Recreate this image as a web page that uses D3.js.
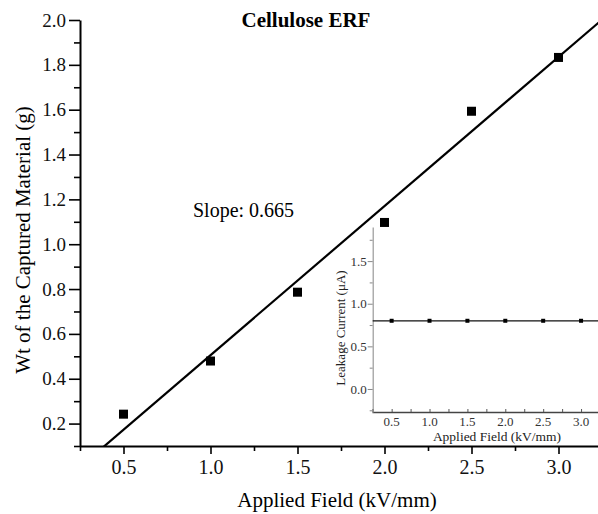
<!DOCTYPE html>
<html>
<head>
<meta charset="utf-8">
<script src="https://cdn.jsdelivr.net/npm/d3@7"></script>
<style>
  body { margin: 0; background: #fff; }
  text { font-family: "Liberation Serif", "Times New Roman", serif; }
</style>
</head>
<body>
<script>

var width = 598,
    height = 514;

// main plot: captured weight vs applied field
var fieldKV = [0.5, 1.0, 1.5, 2.0, 2.5, 3.0];
var capturedWt = [0.242, 0.479, 0.786, 1.097, 1.593, 1.833];
var fitSlope = 0.665,
    fitIntercept = -0.16;

// inset: leakage current vs applied field
var insetField = [0.5, 1.0, 1.5, 2.0, 2.5, 3.0];
var leakageCurrent = [0.8, 0.8, 0.8, 0.8, 0.8, 0.8];

var xTicks = [0.5, 1.0, 1.5, 2.0, 2.5, 3.0],
    xMinor = [0.25, 0.75, 1.25, 1.75, 2.25, 2.75, 3.25],
    yTicks = [0.2, 0.4, 0.6, 0.8, 1.0, 1.2, 1.4, 1.6, 1.8, 2.0],
    yMinor = [0.1, 0.3, 0.5, 0.7, 0.9, 1.1, 1.3, 1.5, 1.7, 1.9],
    insetYTicks = [0.0, 0.5, 1.0, 1.5],
    insetYMinor = [-0.25, 0.25, 0.75, 1.25, 1.75];

var svg = d3.select('body')
    .append('svg')
    .attr('width', width)
    .attr('height', height);

var x = d3.scaleLinear()
    .domain([0.25, 3.25])
    .range([80, 602]);

var y = d3.scaleLinear()
    .domain([0.1, 2.0])
    .range([446, 20]);

var fmt = d3.format('.1f');

// minor ticks first, then major with labels
svg.append('g')
    .attr('transform', 'translate(0,446)')
    .call(d3.axisBottom(x).tickValues(xMinor).tickSize(5).tickFormat(''))
    .call(function(g) { g.select('.domain').remove(); })
    .selectAll('line').attr('stroke-width', 1.6);

var xAxis = svg.append('g')
    .attr('transform', 'translate(0,446)')
    .call(d3.axisBottom(x).tickValues(xTicks).tickSize(8).tickPadding(6).tickFormat(fmt).tickSizeOuter(0));
xAxis.select('.domain').attr('stroke-width', 2);
xAxis.selectAll('line').attr('stroke-width', 1.6);
xAxis.selectAll('text')
    .style('font-size', '20px')
    .style('font-family', '"Liberation Serif", serif')
    .attr('fill', '#111');

svg.append('g')
    .attr('transform', 'translate(80,0)')
    .call(d3.axisLeft(y).tickValues(yMinor).tickSize(6).tickFormat(''))
    .call(function(g) { g.select('.domain').remove(); })
    .selectAll('line').attr('stroke-width', 1.6);

var yAxis = svg.append('g')
    .attr('transform', 'translate(80,0)')
    .call(d3.axisLeft(y).tickValues(yTicks).tickSize(11).tickPadding(3).tickFormat(fmt).tickSizeOuter(0));
yAxis.select('.domain').attr('stroke-width', 2);
yAxis.selectAll('line').attr('stroke-width', 1.6);
yAxis.selectAll('text')
    .style('font-size', '19px')
    .style('font-family', '"Liberation Serif", serif')
    .attr('fill', '#111');

// fitted line, clipped to plot area
svg.append('clipPath')
    .attr('id', 'plot-clip')
    .append('rect')
    .attr('x', 80)
    .attr('y', 0)
    .attr('width', width - 80)
    .attr('height', 446);

var fitLine = d3.line()
    .x(function(d) { return x(d); })
    .y(function(d) { return y(fitIntercept + fitSlope * d); });

svg.append('path')
    .datum([0.25, 3.25])
    .attr('d', fitLine)
    .attr('clip-path', 'url(#plot-clip)')
    .attr('fill', 'none')
    .attr('stroke', '#000')
    .attr('stroke-width', 2.2);

var sq = 9;
svg.selectAll('rect.pt')
    .data(fieldKV)
    .enter()
    .append('rect')
    .classed('pt', true)
    .attr('x', function(d) { return x(d) - sq / 2; })
    .attr('y', function(d, i) { return y(capturedWt[i]) - sq / 2; })
    .attr('width', sq)
    .attr('height', sq)
    .attr('fill', '#000');

// labels
svg.append('text')
    .attr('x', 306)
    .attr('y', 27)
    .attr('text-anchor', 'middle')
    .style('font-size', '21px')
    .style('font-weight', 'bold')
    .text('Cellulose ERF');

svg.append('text')
    .attr('x', 193)
    .attr('y', 217)
    .style('font-size', '20px')
    .text('Slope: 0.665');

svg.append('text')
    .attr('x', 337)
    .attr('y', 507)
    .attr('text-anchor', 'middle')
    .style('font-size', '21px')
    .text('Applied Field (kV/mm)');

svg.append('text')
    .attr('transform', 'translate(30,240) rotate(-90)')
    .attr('text-anchor', 'middle')
    .style('font-size', '21px')
    .text('Wt of the Captured Material (g)');

// inset
var ix = d3.scaleLinear()
    .domain([0.25, 3.25])
    .range([372.7, 600]);

var iy = d3.scaleLinear()
    .domain([-0.27, 1.9])
    .range([412, 227]);

var inset = svg.append('g').classed('inset', true);

inset.append('g')
    .attr('transform', 'translate(0,412)')
    .call(d3.axisTop(ix).tickValues(xMinor.concat(xTicks)).tickSize(3).tickFormat(''))
    .call(function(g) { g.select('.domain').attr('stroke', '#444').attr('stroke-width', 1.4); })
    .selectAll('line').attr('stroke', '#555');

inset.selectAll('text.ixl')
    .data(xTicks)
    .enter()
    .append('text')
    .classed('ixl', true)
    .attr('x', function(d) { return ix(d); })
    .attr('y', 426)
    .attr('text-anchor', 'middle')
    .attr('fill', '#333')
    .style('font-size', '13px')
    .text(fmt);

inset.append('g')
    .attr('transform', 'translate(372.7,0)')
    .call(d3.axisLeft(iy).tickValues(insetYMinor).tickSize(3).tickFormat(''))
    .call(function(g) { g.select('.domain').remove(); })
    .selectAll('line').attr('stroke', '#888');

var iyAxis = inset.append('g')
    .attr('transform', 'translate(372.7,0)')
    .call(d3.axisLeft(iy).tickValues(insetYTicks).tickSize(5).tickPadding(1).tickFormat(fmt).tickSizeOuter(0));
iyAxis.select('.domain').attr('stroke', '#999').attr('stroke-width', 1.2);
iyAxis.selectAll('line').attr('stroke', '#888');
iyAxis.selectAll('text')
    .style('font-size', '13px')
    .style('font-family', '"Liberation Serif", serif')
    .attr('fill', '#333');

inset.append('line')
    .attr('x1', ix(0.25))
    .attr('x2', width)
    .attr('y1', iy(d3.mean(leakageCurrent)))
    .attr('y2', iy(d3.mean(leakageCurrent)))
    .attr('stroke', '#111')
    .attr('stroke-width', 1.2);

var isq = 4;
inset.selectAll('rect.ipt')
    .data(insetField)
    .enter()
    .append('rect')
    .classed('ipt', true)
    .attr('x', function(d) { return ix(d) - isq / 2; })
    .attr('y', function(d, i) { return iy(leakageCurrent[i]) - isq / 2; })
    .attr('width', isq)
    .attr('height', isq)
    .attr('fill', '#000');

inset.append('text')
    .attr('x', 497)
    .attr('y', 441)
    .attr('text-anchor', 'middle')
    .attr('fill', '#222')
    .style('font-size', '13.5px')
    .text('Applied Field (kV/mm)');

inset.append('text')
    .attr('transform', 'translate(345,328) rotate(-90)')
    .attr('text-anchor', 'middle')
    .attr('fill', '#222')
    .style('font-size', '13px')
    .text('Leakage Current (\u03bcA)');

</script>
</body>
</html>
